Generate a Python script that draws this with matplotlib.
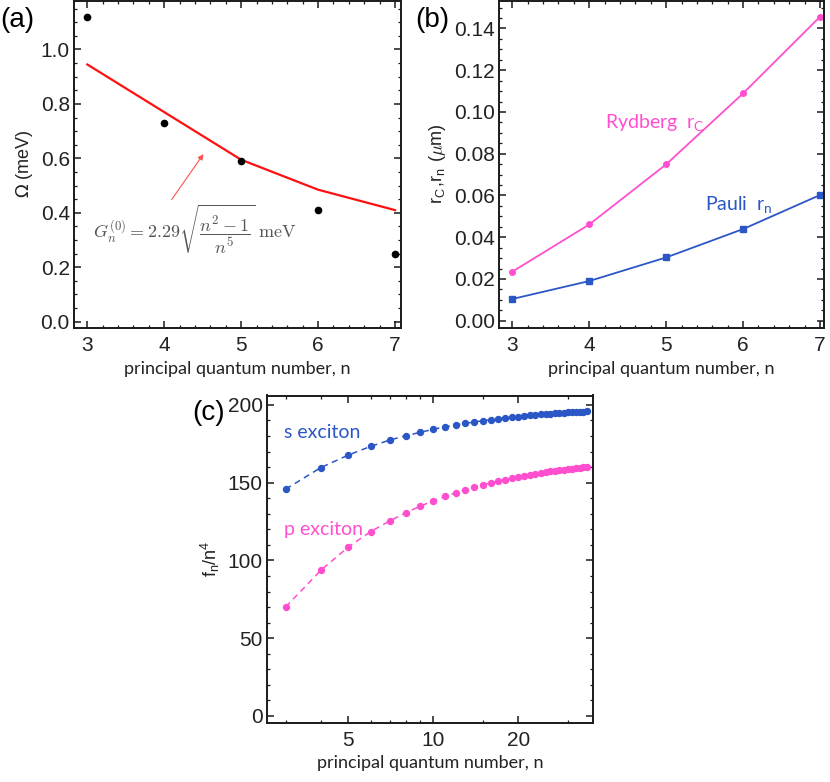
import numpy as np
import matplotlib
matplotlib.use('Agg')
import matplotlib.pyplot as plt
from matplotlib.ticker import MultipleLocator, FixedLocator, FormatStrFormatter, NullFormatter

plt.rcParams['font.family'] = ['Liberation Sans', 'DejaVu Sans']

# (a) coupling vs n
n_a = [3, 4, 5, 6, 7]
omega_pts = [1.12, 0.73, 0.59, 0.41, 0.25]
g_line = [0.945, 0.77, 0.595, 0.485, 0.41]

# (b) radii vs n
n_b = [3, 4, 5, 6, 7]
r_ryd = [0.0235, 0.0461, 0.0749, 0.1089, 0.1456]
r_pauli = [0.0104, 0.0190, 0.0303, 0.0439, 0.0602]

# (c) oscillator strength f_n/n^4
n_c = list(range(3, 36))
f_s = [145.8, 159.7, 167.7, 173.3, 177.3, 180.2, 182.3, 184.3, 185.8, 187.1,
       188.1, 189.0, 189.8, 190.5, 191.1, 191.6, 192.1, 192.5, 192.9, 193.2,
       193.5, 193.8, 194.1, 194.3, 194.5, 194.7, 194.9, 195.1, 195.3, 195.4,
       195.6, 195.7, 195.9]
f_p = [70.1, 93.7, 108.6, 118.5, 125.3, 130.7, 134.9, 138.3, 141.1, 143.4,
       145.4, 147.1, 148.6, 149.9, 151.0, 152.0, 152.9, 153.7, 154.4, 155.1,
       155.7, 156.2, 156.7, 157.2, 157.6, 158.0, 158.4, 158.7, 159.0, 159.3,
       159.6, 159.9, 160.1]

blue = '#2b56c6'
pink = '#ff4fcf'
frame = '#1a1a1a'
lab_font = ['Lato', 'DejaVu Sans']

W, H = 830, 782
fig = plt.figure(figsize=(W / 100, H / 100), dpi=100)

def box(l, t, r, b):
    return [l / W, 1 - b / H, (r - l) / W, (b - t) / H]

ax_a = fig.add_axes(box(74, 0.5, 401, 327.7))
ax_b = fig.add_axes(box(499, 0.5, 824.3, 327.7))
ax_c = fig.add_axes(box(266.7, 395.5, 593.3, 722.5))

for ax in (ax_a, ax_b, ax_c):
    ax.tick_params(which='both', direction='in', top=True, right=True,
                   color=frame, labelsize=15, labelcolor='#222222')
    ax.tick_params(which='major', length=5, width=1.1)
    ax.tick_params(which='minor', length=2.5, width=0.9)
    ax.tick_params(axis='x', pad=6)
    ax.tick_params(axis='y', pad=3)
    for s in ax.spines.values():
        s.set_linewidth(1.4)
        s.set_color(frame)

# panel (a)
ax_a.plot(n_a, g_line, color='#ff1010', lw=1.6)
ax_a.plot(n_a, omega_pts, 'o', color='black', ms=4.5)
ax_a.set_xlim(2.827, 7.078)
ax_a.set_ylim(-0.022, 1.18)
ax_a.xaxis.set_major_locator(MultipleLocator(1))
ax_a.xaxis.set_minor_locator(MultipleLocator(0.2))
ax_a.yaxis.set_major_locator(MultipleLocator(0.2))
ax_a.yaxis.set_minor_locator(MultipleLocator(0.05))
ax_a.yaxis.set_major_formatter(FormatStrFormatter('%.1f'))
ax_a.annotate('', xy=(4.53, 0.624), xytext=(4.075, 0.44),
              arrowprops=dict(arrowstyle='-|>', color='#ff5050', lw=0.8,
                              mutation_scale=8))
ax_a.text(4.4, 0.34, r'$G_n^{(0)}=2.29\sqrt{\dfrac{n^2-1}{n^5}}\ \mathrm{meV}$',
          ha='center', va='center', fontsize=13, color='#555555',
          math_fontfamily='cm')
ax_a.set_xlabel('principal quantum number, n', family=lab_font, fontsize=13,
                color='#222222')
ax_a.set_ylabel(r'$\Omega$ (meV)', fontsize=13, color='#222222')
fig.text(0, 0.974, '(a)', fontsize=20, va='center', ha='left')

# panel (b)
ax_b.plot(n_b, r_ryd, '-o', color=pink, lw=1.3, ms=4)
ax_b.plot(n_b, r_pauli, '-s', color=blue, lw=1.3, ms=4)
ax_b.set_xlim(2.827, 7.056)
ax_b.set_ylim(-0.00335, 0.1534)
ax_b.xaxis.set_major_locator(MultipleLocator(1))
ax_b.xaxis.set_minor_locator(MultipleLocator(0.2))
ax_b.yaxis.set_major_locator(MultipleLocator(0.02))
ax_b.yaxis.set_minor_locator(MultipleLocator(0.005))
ax_b.yaxis.set_major_formatter(FormatStrFormatter('%.2f'))
ax_b.text(4.2, 0.0945, r'Rydberg  r$_\mathregular{C}$', color=pink,
          family=lab_font, fontsize=14, ha='left', va='center')
ax_b.text(5.5, 0.0555, r'Pauli  r$_\mathregular{n}$', color=blue,
          family=lab_font, fontsize=14, ha='left', va='center')
ax_b.set_xlabel('principal quantum number, n', family=lab_font, fontsize=13,
                color='#222222')
ax_b.set_ylabel(r'r$_\mathregular{C}$,r$_\mathregular{n}$ ($\mu$m)', fontsize=13,
                color='#222222', math_fontfamily='cm')
fig.text(415 / W, 0.974, '(b)', fontsize=20, va='center', ha='left')

# panel (c)
ax_c.plot(n_c, f_s, '--o', color=blue, lw=1.1, ms=4.3, dashes=(4, 3))
ax_c.plot(n_c, f_p, '--o', color=pink, lw=1.1, ms=4.3, dashes=(4, 3))
ax_c.set_xscale('log')
ax_c.set_xlim(2.57, 36.9)
ax_c.set_ylim(-4.2, 206)
ax_c.xaxis.set_major_locator(FixedLocator([5, 10, 20]))
ax_c.xaxis.set_minor_locator(FixedLocator([3, 4, 6, 7, 8, 9, 15, 30]))
ax_c.xaxis.set_major_formatter(FormatStrFormatter('%d'))
ax_c.xaxis.set_minor_formatter(NullFormatter())
ax_c.yaxis.set_major_locator(MultipleLocator(50))
ax_c.yaxis.set_minor_locator(MultipleLocator(10))
ax_c.text(2.95, 182, 's exciton', color=blue, family=lab_font, fontsize=14,
          ha='left', va='center')
ax_c.text(2.95, 120, 'p exciton', color=pink, family=lab_font, fontsize=14,
          ha='left', va='center')
ax_c.set_xlabel('principal quantum number, n', family=lab_font, fontsize=13,
                color='#222222')
ax_c.set_ylabel(r'f$_\mathregular{n}$/n$^\mathregular{4}$', fontsize=13,
                color='#222222')
fig.text(192 / W, 1 - 413 / H, '(c)', fontsize=20, va='center', ha='left')

fig.savefig('out.png', dpi=100)
